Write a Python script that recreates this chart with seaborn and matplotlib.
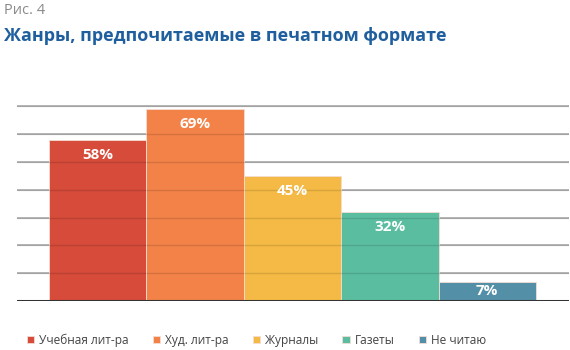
import matplotlib
matplotlib.use("Agg")
import matplotlib.pyplot as plt
import seaborn as sns
import pandas as pd

categories = ["Учебная лит-ра", "Худ. лит-ра", "Журналы", "Газеты", "Не читаю"]
values = [58, 69, 45, 32, 7]
labels = ["58%", "69%", "45%", "32%", "7%"]
colors = ["#d64b3a", "#f28248", "#f5ba45", "#5bbda0", "#5390a8"]

sns.set_theme(style="white")
plt.rcParams["font.family"] = ["Open Sans", "DejaVu Sans"]

df = pd.DataFrame({"cat": categories, "val": values})

fig = plt.figure(figsize=(5.7, 3.5), dpi=100)
ax = fig.add_axes([17 / 570, 1 - 301 / 350, 552 / 570, 195.5 / 350])

for yv in range(10, 80, 10):
    ax.axhline(yv, color="#a6a6a6", lw=1.1, zorder=0)
    ax.axhline(yv, color="#000000", lw=1.0, alpha=0.12, zorder=2.5)

sns.barplot(data=df, x="cat", y="val", hue="cat", palette=colors, width=1.0,
            dodge=False, legend=True, ax=ax, saturation=1, zorder=2,
            edgecolor="#f4ddd3", linewidth=0.6)

ax.set_xlim(-0.83, 4.84)
ax.set_ylim(0, 70.3)
ax.axhline(0, color="#333333", lw=2.2, zorder=3)
for s in ax.spines.values():
    s.set_visible(False)
ax.set_xticks([])
ax.set_yticks([])
ax.set_xlabel("")
ax.set_ylabel("")

px_per_unit = 195.5 / 70.3
for i, (v, lab) in enumerate(zip(values, labels)):
    off = min(15.0, v * px_per_unit / 2)
    ax.annotate(lab, (i, v), xytext=(0, -off), textcoords="offset pixels",
                ha="center", va="center", color="white", fontsize=11,
                fontweight="bold", zorder=4)

sns.move_legend(ax, "center", bbox_to_anchor=(256.5 / 570, 10 / 350), bbox_transform=fig.transFigure,
                ncol=5, frameon=False, title=None, handlelength=0.6, handleheight=0.6,
                handletextpad=0.45, columnspacing=2.0, fontsize=8.6)
for t in ax.get_legend().get_texts():
    t.set_color("#444444")

fig.text(4 / 570, 1 - 11 / 350, "Рис. 4", color="#8a8a8a", fontsize=10.5, va="center", ha="left")
fig.text(4 / 570, 1 - 36 / 350, "Жанры, предпочитаемые в печатном формате", color="#1f5f9e",
         fontsize=13, fontweight="bold", va="center", ha="left")

fig.savefig("out.png", dpi=100)
